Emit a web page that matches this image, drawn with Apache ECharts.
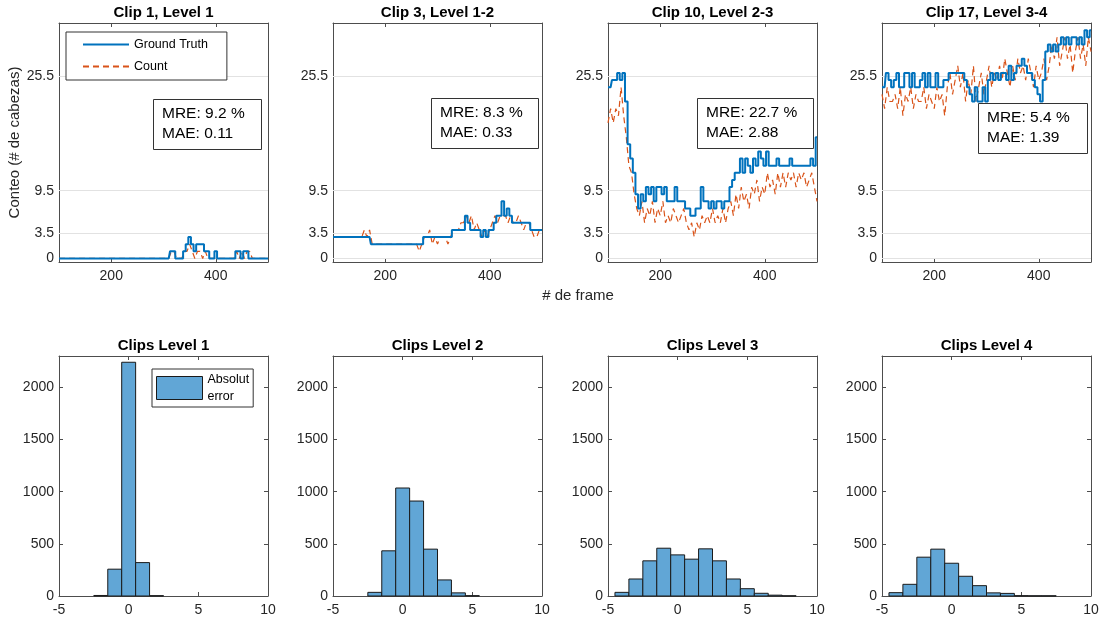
<!DOCTYPE html>
<html>
<head>
<meta charset="utf-8">
<title>Conteo vs Ground Truth</title>
<script src="https://cdn.jsdelivr.net/npm/echarts@6/dist/echarts.min.js"></script>
<style>
html, body { margin: 0; padding: 0; background: #fff; }
#chart { width: 1102px; height: 624px; }
</style>
</head>
<body>
<div id="chart"></div>
<script>
// frames are sampled every 5 frames, 100..500
var FRAME_START = 100;
var FRAME_STEP = 5;

var clipTitles = ['Clip 1, Level 1', 'Clip 3, Level 1-2', 'Clip 10, Level 2-3', 'Clip 17, Level 3-4'];
var clipMRE = ['9.2 %', '8.3 %', '22.7 %', '5.4 %'];
var clipMAE = ['0.11', '0.33', '2.88', '1.39'];
var countTicks = [0, 3.5, 9.5, 25.5];
var frameTicks = [200, 400];

var gt1 = [
    0,0,0,0,0,0,0,0,0,0,
    0,0,0,0,0,0,0,0,0,0,
    0,0,0,0,0,0,0,0,0,0,
    0,0,0,0,0,0,0,0,0,0,
    0,0,0,1,1,0,0,0,1,2,
    3,2,1,2,2,2,1,1,0,0,
    1,0,0,0,0,0,0,0,1,1,
    0,1,1,0,0,0,0,0,0,0,
    0];
var count1 = [
    0,0,0,0,0,0,0,0,0,0,
    0,0,0,0,0,0,0,0,0,0,
    0,0,0,0,0,0,0,0,0,0,
    0,0,0,0,0,0,0,0,0,0,
    0,0,0,1,1,0,0,0,1,1,
    2,1,0,1,1,0,1,0,0,0,
    0,0,0,0,0,0,0,0,1,0,
    1,0,1,1,0,0,0,0,0,0,
    0];

var gt2 = [
    3,3,3,3,3,3,3,3,3,3,
    3,3,3,3,3,2,2,2,2,2,
    2,2,2,2,2,2,2,2,2,2,
    2,2,2,2,2,3,3,3,3,3,
    3,3,3,3,3,3,4,4,4,4,
    4,6,5,4,4,4,4,3,4,3,
    4,4,5,6,6,8,6,7,6,5,
    5,5,5,5,5,5,4,4,4,4,
    4];
var count2 = [
    3,3,3,3,3,3,3,3,3,3,
    3,3,4,3,4,2,2,2,2,2,
    2,2,2,2,2,2,2,2,2,2,
    2,2,2,1,2,3,3,4,2,3,
    2,3,3,3,2,3,4,4,4,5,
    5,6,5,6,4,5,4,3,4,3,
    4,5,6,5,6,6,6,5,6,5,
    5,6,5,4,5,5,4,3,3,4,
    4];

var gt3 = [
    24,24,25,25,26,25,26,22,16,14,
    12,9,7,9,8,10,9,10,8,10,
    10,9,10,8,8,8,10,8,8,8,
    7,7,6,6,7,7,10,8,8,7,
    8,7,8,8,7,8,8,10,11,12,
    12,14,12,14,13,12,14,13,15,14,
    13,15,13,13,13,14,13,13,13,13,
    14,13,13,13,13,13,13,13,14,13,
    17];
var count3 = [
    19,21,19,21,20,24,20,17,13,12,
    9,7,6,8,5,7,6,8,5,7,
    6,8,5,6,5,7,6,5,6,7,
    5,4,5,3,5,4,6,5,6,5,
    7,5,6,5,7,5,7,8,6,9,
    7,10,8,9,7,10,9,11,8,10,
    9,12,10,11,9,12,10,12,10,12,
    11,12,10,12,11,12,10,11,12,10,
    8];

var gt4 = [
    24,24,26,25,24,25,26,24,24,26,
    26,24,26,24,24,25,26,24,26,24,
    24,26,24,24,25,25,26,26,26,26,
    26,26,25,24,23,22,24,22,22,24,
    22,25,26,25,26,25,26,26,25,27,
    25,26,27,27,28,27,26,26,25,24,
    23,22,25,29,30,29,30,29,30,31,
    30,31,30,31,31,30,31,30,32,31,
    32];
var count4 = [
    23,21,24,22,22,23,21,24,20,23,
    22,24,21,23,22,22,24,21,23,22,
    21,24,22,23,20,24,26,23,25,27,
    24,26,22,25,23,27,22,24,26,23,
    25,27,24,26,25,27,25,28,26,24,
    27,25,28,26,27,25,28,26,24,27,
    25,26,28,25,27,30,28,31,27,29,
    31,28,30,26,29,31,28,30,27,31,
    29];

var histTitles = ['Clips Level 1', 'Clips Level 2', 'Clips Level 3', 'Clips Level 4'];
var histTicksX = [-5, 0, 5, 10];
var histTicksY = [0, 500, 1000, 1500, 2000];
var hist1Bins = [-2, -1, 0, 1, 2];
var hist1Counts = [5, 257, 2240, 320, 3];
var hist2Bins = [-2, -1, 0, 1, 2, 3, 4, 5];
var hist2Counts = [35, 433, 1035, 910, 449, 154, 30, 3];
var hist3Bins = [-4, -3, -2, -1, 0, 1, 2, 3, 4, 5, 6, 7, 8];
var hist3Counts = [35, 163, 337, 458, 394, 353, 452, 337, 163, 70, 26, 8, 2];
var hist4Bins = [-4, -3, -2, -1, 0, 1, 2, 3, 4, 5, 6, 7];
var hist4Counts = [32, 112, 372, 449, 314, 189, 99, 30, 25, 3, 2, 2];

var FONT = '"Liberation Sans", Arial, Helvetica, sans-serif';
var AXIS_COLOR = '#4d4d4d';
var TEXT_COLOR = '#262626';
var GT_COLOR = '#0072BD';
var COUNT_COLOR = '#D95319';
var HIST_FILL = '#61a6d6';

var colLefts = [59, 333, 608, 882];
var PLOT_W = 209;

function framePoints(values) {
    var pts = [];
    for (var i = 0; i < values.length; i++) {
        pts.push([FRAME_START + i * FRAME_STEP, values[i]]);
    }
    return pts;
}

function binPoints(bins, counts) {
    return bins.map(function(b, i) { return [b, counts[i]]; });
}

function renderBin(params, api) {
    var x = api.value(0);
    var c = api.value(1);
    var p0 = api.coord([x - 0.5, 0]);
    var p1 = api.coord([x + 0.5, c]);
    return {
        type: 'rect',
        shape: { x: p0[0], y: p1[1], width: p1[0] - p0[0], height: p0[1] - p1[1] },
        style: { fill: HIST_FILL, stroke: '#1a1a1a', lineWidth: 1 }
    };
}

function makeAxis(dim, gridIndex, mirror, cfg) {
    var ax = {
        type: 'value',
        gridIndex: gridIndex,
        min: cfg.min,
        max: cfg.max,
        position: dim === 'x' ? (mirror ? 'top' : 'bottom') : (mirror ? 'right' : 'left'),
        axisLine: { show: true, onZero: false, lineStyle: { color: AXIS_COLOR, width: 1 } },
        axisTick: { show: true, inside: true, length: 4, customValues: cfg.ticks, lineStyle: { color: AXIS_COLOR } },
        axisLabel: {
            show: !mirror, customValues: cfg.ticks, color: TEXT_COLOR, fontSize: 14, fontFamily: FONT,
            margin: dim === 'x' ? 7 : 5,
            formatter: function(v) { return String(v); }
        },
        splitLine: { show: false }
    };
    if (cfg.name) {
        ax.name = cfg.name;
        ax.nameLocation = 'middle';
        ax.nameGap = 34;
        ax.nameTextStyle = { fontSize: 15, color: TEXT_COLOR, fontFamily: FONT };
    }
    return ax;
}

var grids = [], xAxes = [], yAxes = [], series = [], titles = [];
var gtSets = [gt1, gt2, gt3, gt4];
var countSets = [count1, count2, count3, count4];
var histSets = [[hist1Bins, hist1Counts], [hist2Bins, hist2Counts], [hist3Bins, hist3Counts], [hist4Bins, hist4Counts]];
var boxPos = [[153, 99, 17], [431, 98, 16], [697, 98, 16], [978, 103, 18]];

colLefts.forEach(function(l) { grids.push({ left: l, top: 23, width: PLOT_W, height: 239 }); });
colLefts.forEach(function(l) { grids.push({ left: l, top: 356, width: PLOT_W, height: 240 }); });

for (var i = 0; i < 4; i++) {
    var xc = { min: 100, max: 500, ticks: frameTicks };
    var yc = { min: -0.5, max: 33, ticks: countTicks, name: i === 0 ? 'Conteo (# de cabezas)' : null };
    xAxes.push(makeAxis('x', i, false, xc), makeAxis('x', i, true, xc));
    yAxes.push(makeAxis('y', i, false, yc), makeAxis('y', i, true, { min: -0.5, max: 33, ticks: countTicks }));

    series.push({
        type: 'line', name: '', xAxisIndex: 2 * i, yAxisIndex: 2 * i, data: [], z: 1,
        markLine: {
            silent: true, symbol: 'none', z: 1, animation: false,
            label: { show: false },
            lineStyle: { color: '#e2e2e2', width: 1, type: 'solid' },
            data: countTicks.map(function(v) { return { yAxis: v }; })
        }
    });
    series.push({
        type: 'line', name: 'Count', xAxisIndex: 2 * i, yAxisIndex: 2 * i,
        data: framePoints(countSets[i]), symbol: 'none', z: 3,
        lineStyle: { color: COUNT_COLOR, width: 1.2, type: [6, 4] },
        itemStyle: { color: COUNT_COLOR }
    });
    series.push({
        type: 'line', name: 'Ground Truth', xAxisIndex: 2 * i, yAxisIndex: 2 * i,
        data: framePoints(gtSets[i]), step: 'middle', symbol: 'none', z: 4,
        lineStyle: { color: GT_COLOR, width: 2 },
        itemStyle: { color: GT_COLOR }
    });

    titles.push({
        text: clipTitles[i], left: colLefts[i] + PLOT_W / 2, top: 5, textAlign: 'center', padding: 0,
        textStyle: { fontSize: 15, fontWeight: 'bold', color: '#000', fontFamily: FONT }
    });
    titles.push({
        text: 'MRE: ' + clipMRE[i] + '\nMAE: ' + clipMAE[i],
        left: boxPos[i][0], top: boxPos[i][1], padding: [5, boxPos[i][2], 6, 9],
        borderColor: '#333', borderWidth: 1,
        textStyle: { fontSize: 15.5, fontWeight: 'normal', lineHeight: 20, color: '#000', fontFamily: FONT }
    });
}

for (var j = 0; j < 4; j++) {
    var g = j + 4;
    var hx = { min: -5, max: 10, ticks: histTicksX };
    var hy = { min: 0, max: 2300, ticks: histTicksY };
    xAxes.push(makeAxis('x', g, false, hx), makeAxis('x', g, true, hx));
    yAxes.push(makeAxis('y', g, false, hy), makeAxis('y', g, true, hy));
    series.push({
        type: 'custom', name: 'Absolut error', xAxisIndex: 2 * g, yAxisIndex: 2 * g,
        data: binPoints(histSets[j][0], histSets[j][1]),
        encode: { x: 0, y: 1 }, renderItem: renderBin, z: 3,
        itemStyle: { color: HIST_FILL, borderColor: '#1a1a1a', borderWidth: 1 }
    });
    titles.push({
        text: histTitles[j], left: colLefts[j] + PLOT_W / 2, top: 338, textAlign: 'center', padding: 0,
        textStyle: { fontSize: 15, fontWeight: 'bold', color: '#000', fontFamily: FONT }
    });
}

titles.push({
    text: '# de frame', left: 578, top: 288, textAlign: 'center', padding: 0,
    textStyle: { fontSize: 15, fontWeight: 'normal', color: TEXT_COLOR, fontFamily: FONT }
});

var chart = echarts.init(document.getElementById('chart'), null, { renderer: 'canvas' });
chart.setOption({
    backgroundColor: '#fff',
    animation: false,
    textStyle: { fontFamily: FONT },
    title: titles,
    legend: [{
        data: ['Ground Truth', 'Count'], orient: 'vertical', left: 66, top: 32,
        padding: [6, 19, 7, 16], itemWidth: 46, itemHeight: 10, itemGap: 9, itemTextGap: 5,
        backgroundColor: '#fff', borderColor: '#333', borderWidth: 1, selectedMode: false,
        itemStyle: { color: 'rgba(0,0,0,0)', borderWidth: 0, opacity: 0 },
        textStyle: { fontSize: 12.5, color: '#000', fontFamily: FONT }
    }, {
        data: ['Absolut error'], orient: 'vertical', left: 152, top: 369,
        padding: [2, 4, 2, 4], itemWidth: 46, itemHeight: 23, itemTextGap: 5, icon: 'rect',
        backgroundColor: '#fff', borderColor: '#333', borderWidth: 1, selectedMode: false,
        itemStyle: { color: HIST_FILL, borderColor: '#1a1a1a', borderWidth: 1 },
        formatter: function(name) { return name.replace(' ', '\n'); },
        textStyle: { fontSize: 12.5, lineHeight: 17, color: '#000', fontFamily: FONT }
    }],
    grid: grids,
    xAxis: xAxes,
    yAxis: yAxes,
    series: series
});
</script>
</body>
</html>
